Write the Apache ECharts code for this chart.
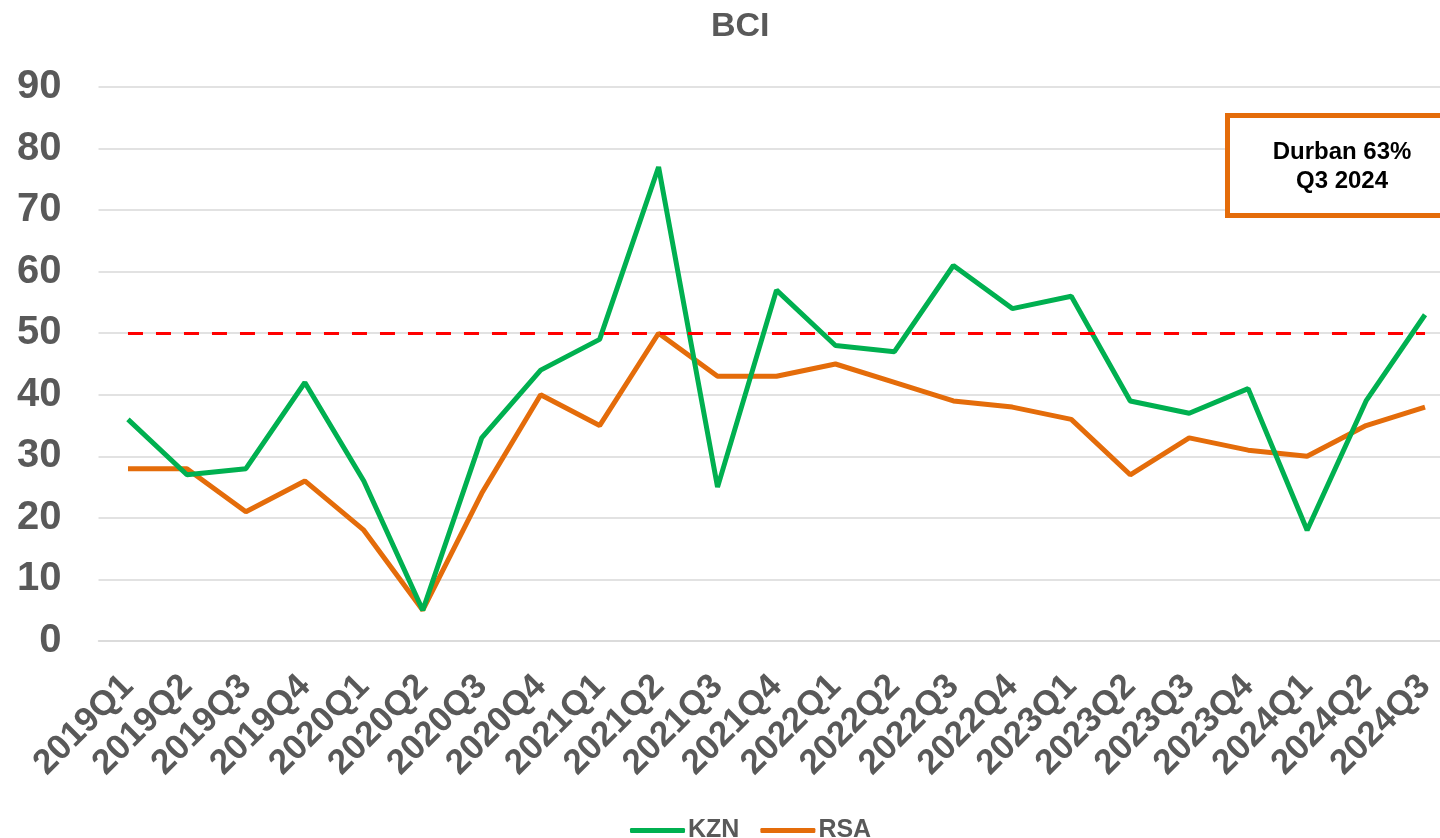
<!DOCTYPE html>
<html>
<head>
<meta charset="utf-8">
<title>BCI</title>
<script src="https://cdn.jsdelivr.net/npm/echarts@6/dist/echarts.min.js"></script>
<style>
  html, body { margin: 0; padding: 0; background: #fff; }
  #chart { width: 1440px; height: 838px; }
</style>
</head>
<body>
<div id="chart"></div>
<script>
// quarters on the x axis
const quarters = [
  '2019Q1', '2019Q2', '2019Q3', '2019Q4',
  '2020Q1', '2020Q2', '2020Q3', '2020Q4',
  '2021Q1', '2021Q2', '2021Q3', '2021Q4',
  '2022Q1', '2022Q2', '2022Q3', '2022Q4',
  '2023Q1', '2023Q2', '2023Q3', '2023Q4',
  '2024Q1', '2024Q2', '2024Q3'
]
// business confidence index values
const kzn = [36, 27, 28, 42, 26, 5, 33, 44, 49, 77, 25, 57, 48, 47, 61, 54, 56, 39, 37, 41, 18, 39, 53]
const rsa = [28, 28, 21, 26, 18, 5, 24, 40, 35, 50, 43, 43, 45, 42, 39, 38, 36, 27, 33, 31, 30, 35, 38]
const neutralLevel = 50
const noteText = 'Durban 63%\nQ3 2024'

const FONT = 'Liberation Sans, Arial, sans-serif'
const GREY = '#595959'

var myChart = echarts.init(document.getElementById('chart'))

var option = {
  animation: false,
  title: {
    text: 'BCI',
    left: 706,
    top: 5,
    textStyle: { fontFamily: FONT, fontSize: 34, fontWeight: 'bold', color: GREY }
  },
  legend: {
    left: 625,
    top: 813,
    icon: 'roundRect',
    itemWidth: 55,
    itemHeight: 5,
    itemGap: 21,
    textStyle: { fontFamily: FONT, fontSize: 25, fontWeight: 'bold', color: GREY, padding: [0, 0, 0, -2] },
    data: ['KZN', 'RSA']
  },
  grid: {
    left: 98.5,
    width: 1356,
    top: 87,
    bottom: 197,
    outerBoundsMode: 'none'
  },
  xAxis: {
    type: 'category',
    data: quarters,
    boundaryGap: true,
    axisLine: { show: true, lineStyle: { color: '#d9d9d9', width: 1.5 } },
    axisTick: { show: false },
    axisLabel: {
      interval: 0,
      rotate: 45,
      margin: 40,
      fontFamily: FONT,
      fontSize: 35,
      fontWeight: 'bold',
      color: GREY
    }
  },
  yAxis: {
    type: 'value',
    min: 0,
    max: 90,
    interval: 10,
    axisLine: { show: false },
    axisTick: { show: false },
    axisLabel: {
      margin: 37,
      fontFamily: FONT,
      fontSize: 40,
      fontWeight: 'bold',
      color: GREY
    },
    splitLine: { lineStyle: { color: '#d9d9d9', width: 1.5 } }
  },
  series: [
    {
      name: 'KZN',
      type: 'line',
      data: kzn,
      symbol: 'none',
      z: 3,
      lineStyle: { color: '#00B050', width: 5 },
      itemStyle: { color: '#00B050' }
    },
    {
      name: 'RSA',
      type: 'line',
      data: rsa,
      symbol: 'none',
      z: 2,
      lineStyle: { color: '#E46C0A', width: 5 },
      itemStyle: { color: '#E46C0A' },
      markLine: {
        silent: true,
        symbol: 'none',
        label: { show: false },
        lineStyle: { color: '#FF0000', width: 3, type: [15, 13] },
        data: [[
          { coord: [quarters[0], neutralLevel] },
          { coord: [quarters[quarters.length - 1], neutralLevel] }
        ]]
      }
    }
  ],
  graphic: [
    {
      type: 'rect',
      shape: { x: 1227.5, y: 115.5, width: 260, height: 100 },
      style: { fill: '#fff', stroke: '#E46C0A', lineWidth: 5 },
      z: 10
    },
    {
      type: 'text',
      x: 1342,
      y: 167,
      z: 11,
      style: {
        text: noteText,
        align: 'center',
        verticalAlign: 'middle',
        fontFamily: FONT,
        fontSize: 24,
        fontWeight: 'bold',
        lineHeight: 29,
        fill: '#000'
      }
    }
  ]
}

myChart.setOption(option)
</script>
</body>
</html>
